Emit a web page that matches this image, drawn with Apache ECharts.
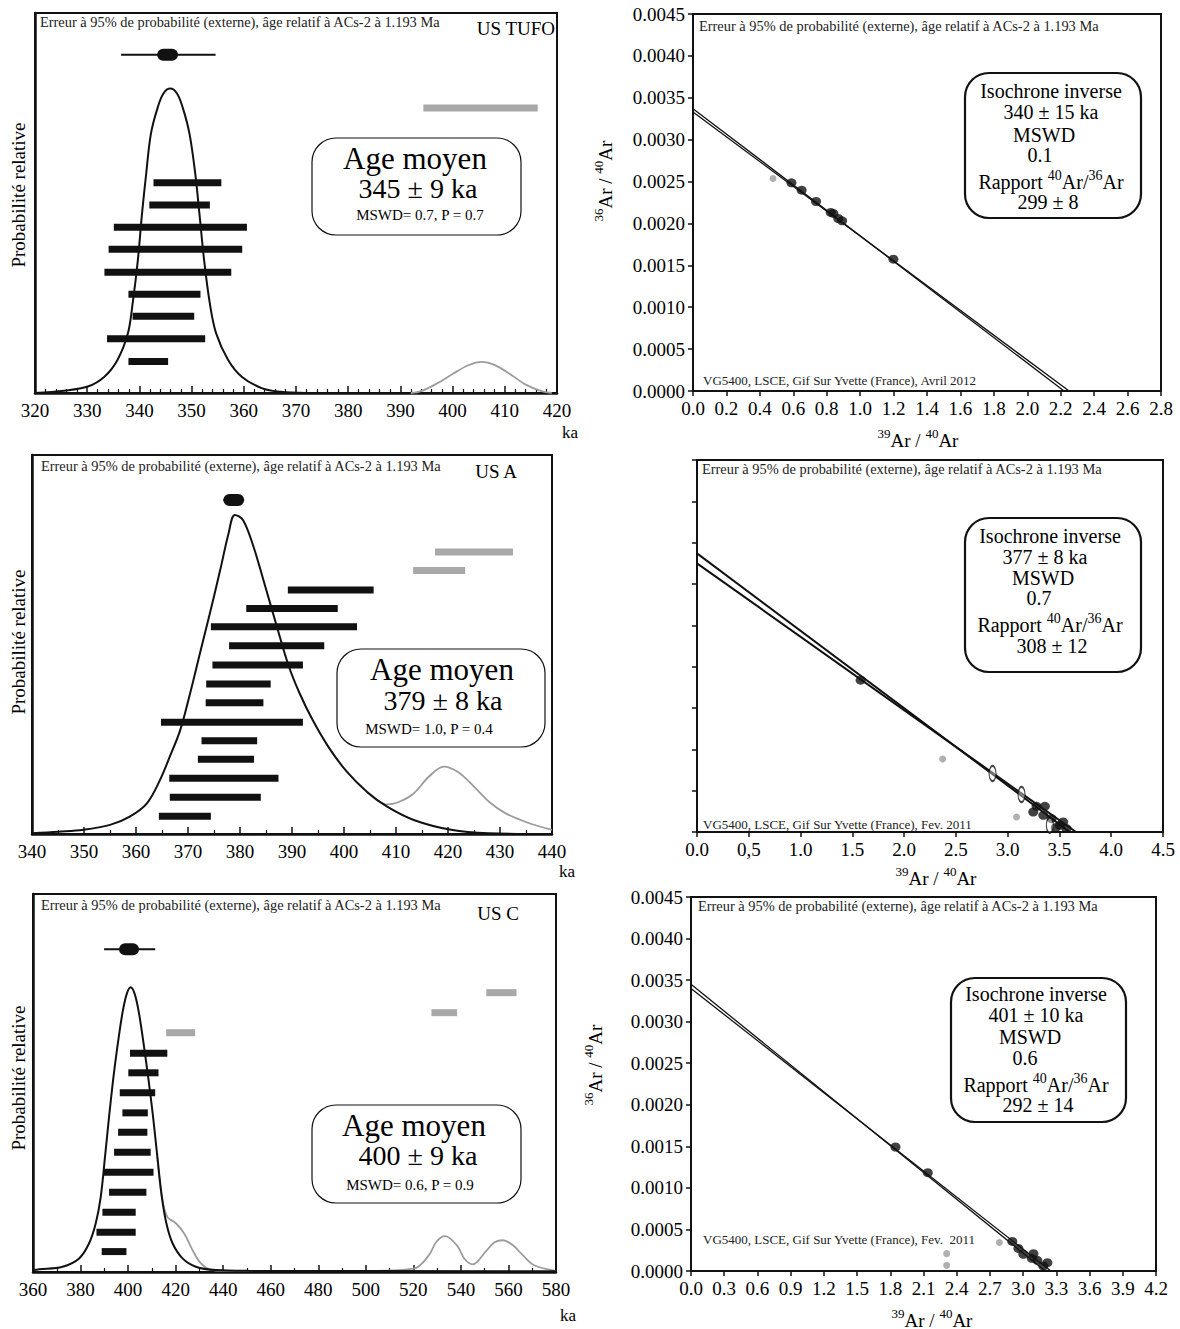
<!DOCTYPE html>
<html><head><meta charset="utf-8">
<script src="https://cdn.jsdelivr.net/npm/echarts@6/dist/echarts.min.js"></script>
<style>html,body{margin:0;padding:0;background:#fff}#c{width:1180px;height:1329px}</style>
</head><body><div id="c"></div>
<script>
// ---------- DATA ----------
// Panel 1 : US TUFO (probability diagram, x in ka, y = relative probability 0..1)
const tufoCurve = [[320,0],[325.6,0.006],[330.1,0.017],[333.3,0.043],[335.8,0.087],[337.8,0.157],[338.7,0.235],[339.7,0.349],[340.5,0.472],[341.3,0.577],[342.2,0.682],[343.5,0.751],[344.6,0.788],[345.9,0.801],[347.2,0.788],[348.3,0.751],[349.6,0.682],[350.7,0.577],[351.5,0.472],[352.4,0.349],[353.5,0.235],[354.7,0.157],[357.0,0.087],[359.6,0.043],[363.4,0.013],[367,0.003],[372,0]];
const tufoGrayCurve = [[392,0],[394,0.005],[397,0.025],[400,0.05],[403,0.073],[405.6,0.082],[408,0.074],[411,0.05],[414,0.022],[417,0.005],[419,0]];
const tufoBars = [[342.7,355.7,0.553],[341.9,353.5,0.495],[335.1,360.6,0.436],[334.1,359.7,0.378],[333.3,357.6,0.318],[337.9,351.7,0.260],[338.7,350.5,0.202],[333.8,352.6,0.143],[337.9,345.5,0.083]];
const tufoGrayBars = [[394.4,416.3,0.750]];
const tufoMean = [[336.5,354.6,343.4,347.4,0.890]];

// Panel 2 : US TUFO inverse isochron
const tufoIsoA = [[0,0.00337],[2.22,0]];
const tufoIsoB = [[0,0.00333],[2.25,0]];
const tufoSteps = [[0.589,0.002485],[0.650,0.002397],[0.736,0.002262],[0.824,0.002131],[0.840,0.00212],[0.869,0.002059],[0.892,0.002031],[1.199,0.001573]];
const tufoGraySteps = [[0.479,0.002537]];

// Panel 3 : US A
const usaCurve = [[340,0.002],[345.1,0.006],[349.9,0.011],[355.0,0.024],[358.8,0.046],[362.1,0.081],[364.6,0.142],[366.5,0.204],[368.5,0.274],[370.4,0.371],[372.3,0.477],[374.2,0.582],[376.2,0.697],[377.8,0.793],[379.0,0.842],[380.6,0.828],[382.6,0.758],[384.5,0.670],[387.1,0.547],[389.3,0.446],[391.5,0.370],[394.0,0.300],[397.0,0.230],[400.5,0.165],[404.5,0.110],[408.3,0.072],[413.4,0.037],[420.6,0.011],[427.8,0.002],[440,0]];
const usaGrayCurve = [[404.5,0.11],[406.5,0.088],[408.3,0.078],[410.3,0.083],[413.4,0.107],[416.3,0.151],[419.2,0.178],[422,0.163],[425,0.125],[427.9,0.085],[431,0.055],[435.1,0.031],[440,0.011]];
const usaBars = [[389.2,405.7,0.644],[381.2,398.8,0.595],[374.4,402.5,0.547],[377.9,396.2,0.497],[374.7,392.1,0.446],[373.5,385.9,0.396],[373.4,384.5,0.346],[364.8,392.1,0.295],[372.6,383.3,0.246],[371.9,382.7,0.197],[366.4,387.4,0.147],[366.5,384.0,0.097],[364.4,374.4,0.047]];
const usaGrayBars = [[417.5,432.5,0.744],[413.3,423.3,0.695]];
const usaMean = [[376.8,380.8,376.8,380.8,0.881]];

// Panel 4 : US A inverse isochron
const usaIsoA = [[0,0.00337],[3.60,0]];
const usaIsoB = [[0,0.00325],[3.66,0]];
const usaSteps = [[1.58,0.001836],[3.279,0.000311],[3.359,0.000311],[3.247,0.000242],[3.344,0.000202],[3.424,0.000162],[3.504,0.000081],[3.536,0.000121],[3.568,0.000041],[3.465,0.000053]];
const usaOpenSteps = [[2.854,0.000707],[3.134,0.000453],[3.407,0.000081]];
const usaGraySteps = [[2.372,0.000884],[3.086,0.000182]];
const usaXLabels = ['0.0','0,5','1.0','1.5','2.0','2.5','3.0','3.5','4.0','4.5'];

// Panel 5 : US C
const uscCurve = [[360,0.005],[362.6,0.007],[372.4,0.014],[379.4,0.036],[383.6,0.076],[386.4,0.129],[388.5,0.199],[390.3,0.305],[392.0,0.411],[393.7,0.508],[395.5,0.596],[397.6,0.684],[399.4,0.735],[401.1,0.753],[402.8,0.735],[404.6,0.684],[406.7,0.596],[408.6,0.508],[410.5,0.411],[412.3,0.305],[414.2,0.199],[416.1,0.129],[418.7,0.076],[422.9,0.036],[428.5,0.014],[436.9,0.005],[450,0.003],[580,0.002]];
const uscGrayCurve = [[412.3,0.305],[414.2,0.199],[416.5,0.146],[420.1,0.129],[423.6,0.102],[427.1,0.058],[430.6,0.023],[434.8,0.006],[440,0.003],[500,0.003],[520.2,0.009],[526.5,0.044],[529.7,0.08],[533.3,0.095],[538.4,0.07],[541.5,0.035],[545,0.02],[550.3,0.053],[554,0.078],[557.7,0.084],[562,0.07],[566.1,0.044],[570.8,0.018],[578.7,0.004],[580,0.003]];
const uscBars = [[400.8,416.5,0.579],[400.1,412.8,0.527],[396.5,411.4,0.474],[397.6,408.3,0.421],[395.8,408.1,0.370],[394.1,409.5,0.317],[389.5,410.7,0.264],[392.0,407.7,0.211],[389.2,403.2,0.158],[386.7,403.2,0.105],[388.9,399.3,0.054]];
const uscGrayBars = [[416.0,428.2,0.633],[527.6,538.4,0.686],[550.7,563.4,0.739]];
const uscMean = [[389.9,411.4,396.2,404.6,0.854]];

// Panel 6 : US C inverse isochron
const uscIsoA = [[0,0.00345],[3.20,0]];
const uscIsoB = [[0,0.00340],[3.25,0]];
const uscSteps = [[1.847,0.001492],[2.139,0.001183],[2.902,0.000356],[2.957,0.000271],[3.002,0.000201],[3.093,0.000209],[3.078,0.000153],[3.128,0.000129],[3.183,0.00006],[3.219,0.0001]];
const uscGraySteps = [[2.785,0.000343],[2.309,0.000209],[2.309,0.000068]];

// ---------- TEXTS ----------
const HEADER = 'Erreur à 95% de probabilité (externe), âge relatif à ACs-2 à 1.193 Ma';
const FONT = '"Liberation Serif", "DejaVu Serif", serif';
const BLACK = '#111';
const GRAY = '#9c9c9c';

// ---------- LAYOUT ----------
const grids = [
  {left:35, top:13, width:522, height:380},
  {left:693, top:14, width:468, height:377},
  {left:32, top:455, width:520, height:379},
  {left:697, top:460, width:466, height:372},
  {left:33, top:894, width:523, height:378},
  {left:691, top:897, width:465, height:374}
].map(g => Object.assign({show:true, borderColor:BLACK, borderWidth:2, backgroundColor:'transparent'}, g));

function probX(gi, min, max, interval, minorSplit){
  return {gridIndex:gi, type:'value', min, max, interval,
    axisLine:{lineStyle:{color:BLACK, width:2.5}},
    axisTick:{inside:true, length:7, lineStyle:{color:BLACK, width:1.5}},
    minorTick:{show:true, splitNumber:minorSplit, length:4, lineStyle:{color:BLACK, width:1.2}},
    splitLine:{show:false}, minorSplitLine:{show:false},
    axisLabel:{color:'#000', fontFamily:FONT, fontSize:19, margin:8}};
}
function probY(gi){
  return {gridIndex:gi, type:'value', min:0, max:1,
    axisLine:{show:true, lineStyle:{color:BLACK, width:2.5}},
    axisTick:{show:false}, axisLabel:{show:false}, splitLine:{show:false}};
}
function isoX(gi, max, interval, fmt){
  return {gridIndex:gi, type:'value', min:0, max, interval,
    axisLine:{lineStyle:{color:BLACK, width:2}},
    axisTick:{inside:false, length:5, lineStyle:{color:BLACK, width:1.5}},
    splitLine:{show:false},
    axisLabel:{color:'#000', fontFamily:FONT, fontSize:19, margin:8, formatter:fmt}};
}
function isoY(gi, showLabels){
  return {gridIndex:gi, type:'value', min:0, max:0.0045, interval:0.0005,
    axisLine:{show:true, lineStyle:{color:BLACK, width:2}},
    axisTick:{show:true, inside:false, length:5, lineStyle:{color:BLACK, width:1.5}},
    splitLine:{show:false},
    axisLabel:{show:showLabels, color:'#000', fontFamily:FONT, fontSize:19, margin:8, formatter:v => v.toFixed(4)}};
}

const xAxes = [
  probX(0,320,420,10,5),
  isoX(1,2.8,0.2,v => v.toFixed(1)),
  probX(2,340,440,10,2),
  isoX(3,4.5,0.5,v => usaXLabels[Math.round(v/0.5)]),
  probX(4,360,580,20,2),
  isoX(5,4.2,0.3,v => v.toFixed(1))
];
const yAxes = [probY(0), isoY(1,true), probY(2), isoY(3,false), probY(4), isoY(5,true)];

// ---------- SERIES ----------
function barRender(h, color){
  return function(params, api){
    const y = api.value(2);
    const a = api.coord([api.value(0), y]);
    const b = api.coord([api.value(1), y]);
    return {type:'rect', shape:{x:a[0], y:a[1]-h/2, width:b[0]-a[0], height:h}, style:{fill:color}};
  };
}
function meanRender(params, api){
  const y = api.value(4);
  const a = api.coord([api.value(0), y]), b = api.coord([api.value(1), y]);
  const c = api.coord([api.value(2), y]), d = api.coord([api.value(3), y]);
  return {type:'group', children:[
    {type:'line', shape:{x1:a[0], y1:a[1], x2:b[0], y2:b[1]}, style:{stroke:BLACK, lineWidth:2}},
    {type:'rect', shape:{x:c[0], y:c[1]-6, width:d[0]-c[0], height:12, r:6}, style:{fill:BLACK}}
  ]};
}
const series = [];
function probPanel(gi, curve, grayCurve, bars, grayBars, mean){
  series.push({type:'line', xAxisIndex:gi, yAxisIndex:gi, data:grayCurve, smooth:0.35, showSymbol:false, silent:true, lineStyle:{color:GRAY, width:1.8}, z:2});
  series.push({type:'line', xAxisIndex:gi, yAxisIndex:gi, data:curve, smooth:0.35, showSymbol:false, silent:true, lineStyle:{color:BLACK, width:2}, z:3});
  series.push({type:'custom', xAxisIndex:gi, yAxisIndex:gi, data:grayBars, renderItem:barRender(7,'#a8a8a8'), encode:{x:[0,1], y:2}, silent:true, z:4});
  series.push({type:'custom', xAxisIndex:gi, yAxisIndex:gi, data:bars, renderItem:barRender(7,BLACK), encode:{x:[0,1], y:2}, silent:true, z:5});
  series.push({type:'custom', xAxisIndex:gi, yAxisIndex:gi, data:mean, renderItem:meanRender, encode:{x:[0,1], y:4}, silent:true, z:5});
}
function isoPanel(gi, lineA, lineB, lw, black, gray, open){
  [lineA, lineB].forEach(l => series.push({type:'line', xAxisIndex:gi, yAxisIndex:gi, data:l, showSymbol:false, silent:true, lineStyle:{color:BLACK, width:lw}, z:3}));
  series.push({type:'scatter', xAxisIndex:gi, yAxisIndex:gi, data:gray, symbol:'circle', symbolSize:7, itemStyle:{color:GRAY}, silent:true, z:4});
  series.push({type:'scatter', xAxisIndex:gi, yAxisIndex:gi, data:black, symbol:'circle', symbolSize:[10,9], itemStyle:{color:BLACK}, silent:true, z:5});
  if (open) series.push({type:'scatter', xAxisIndex:gi, yAxisIndex:gi, data:open, symbol:'circle', symbolSize:[7,15], itemStyle:{color:'rgba(255,255,255,0.5)', borderColor:BLACK, borderWidth:1.5}, silent:true, z:6});
}
probPanel(0, tufoCurve, tufoGrayCurve, tufoBars, tufoGrayBars, tufoMean);
isoPanel(1, tufoIsoA, tufoIsoB, 1.3, tufoSteps, tufoGraySteps, null);
probPanel(2, usaCurve, usaGrayCurve, usaBars, usaGrayBars, usaMean);
isoPanel(3, usaIsoA, usaIsoB, 2, usaSteps, usaGraySteps, usaOpenSteps);
probPanel(4, uscCurve, uscGrayCurve, uscBars, uscGrayBars, uscMean);
isoPanel(5, uscIsoA, uscIsoB, 1.3, uscSteps, uscGraySteps, null);

// ---------- ANNOTATIONS ----------
const G = [];
function txt(x, y, text, size, align, opts, fill){
  G.push(Object.assign({type:'text', x, y, silent:true,
    style:{text, fontFamily:FONT, fontSize:size, fill:fill||'#000', align:align||'center', verticalAlign:'middle'}}, opts||{}));
}
function small(x, y, text, size){ txt(x, y, text, size||14.4, 'left', null, '#222'); }
function rich(x, y, text, size, supSize, opts){
  G.push(Object.assign({type:'text', x, y, silent:true,
    style:{text, fontFamily:FONT, fill:'#000', align:'center', verticalAlign:'middle',
      rich:{a:{fontFamily:FONT, fontSize:size, lineHeight:size+4, verticalAlign:'bottom', fill:'#000'},
            s:{fontFamily:FONT, fontSize:supSize, lineHeight:supSize+1, verticalAlign:'top', fill:'#000'}}}}, opts||{}));
}
function box(x, y, w, h, lw){
  G.push({type:'rect', silent:true, shape:{x, y, width:w, height:h, r:24}, style:{fill:'rgba(255,255,255,0)', stroke:BLACK, lineWidth:lw}});
}
const AR_X = '{s|39}{a|Ar / }{s|40}{a|Ar}';
const AR_Y = '{s|36}{a|Ar / }{s|40}{a|Ar}';
const RAPPORT = '{a|Rapport }{s|40}{a|Ar/}{s|36}{a|Ar}';

// Panel 1
small(40, 22, HEADER);
txt(555, 28, 'US TUFO', 19, 'right');
txt(18, 195, 'Probabilité relative', 19, 'center', {rotation:Math.PI/2});
txt(570, 432, 'ka', 17);
box(312, 138, 209, 97, 1.2);
txt(415, 158, 'Age moyen', 31);
txt(418, 188, '345 ± 9 ka', 28);
txt(420, 215, 'MSWD= 0.7, P = 0.7', 15);

// Panel 2
small(699, 26, HEADER);
small(703, 380, 'VG5400, LSCE, Gif Sur Yvette (France), Avril 2012', 13);
rich(918, 438, AR_X, 19, 13);
rich(603, 181, AR_Y, 19, 13, {rotation:Math.PI/2});
box(965, 73, 176, 145, 2.2);
txt(1051, 91, 'Isochrone inverse', 20);
txt(1051, 112, '340 ± 15 ka', 20);
txt(1044, 135, 'MSWD', 20);
txt(1040, 155, '0.1', 20);
rich(1051, 180, RAPPORT, 20, 14);
txt(1048, 202, '299 ± 8', 20);

// Panel 3
small(41, 466, HEADER);
txt(517, 471, 'US A', 19, 'right');
txt(18, 642, 'Probabilité relative', 19, 'center', {rotation:Math.PI/2});
txt(567, 871, 'ka', 17);
box(337, 649, 208, 98, 1.2);
txt(442, 669, 'Age moyen', 31);
txt(443, 700, '379 ± 8 ka', 28);
txt(429, 729, 'MSWD= 1.0, P = 0.4', 15);

// Panel 4
small(702, 469, HEADER);
small(703, 824, 'VG5400, LSCE, Gif Sur Yvette (France), Fev. 2011', 13);
rich(936, 876, AR_X, 19, 13);
box(965, 518, 176, 154, 2.2);
txt(1050, 536, 'Isochrone inverse', 20);
txt(1045, 557, '377 ± 8 ka', 20);
txt(1043, 578, 'MSWD', 20);
txt(1039, 598, '0.7', 20);
rich(1050, 623, RAPPORT, 20, 14);
txt(1052, 646, '308 ± 12', 20);

// Panel 5
small(41, 905, HEADER);
txt(519, 913, 'US C', 19, 'right');
txt(18, 1078, 'Probabilité relative', 19, 'center', {rotation:Math.PI/2});
txt(568, 1315, 'ka', 17);
box(312, 1105, 209, 98, 1.2);
txt(414, 1125, 'Age moyen', 31);
txt(418, 1155, '400 ± 9 ka', 28);
txt(410, 1185, 'MSWD= 0.6, P = 0.9', 15);

// Panel 6
small(698, 906, HEADER);
small(703, 1239, 'VG5400, LSCE, Gif Sur Yvette (France), Fev.  2011', 13);
rich(932, 1318, AR_X, 19, 13);
rich(593, 1065, AR_Y, 19, 13, {rotation:Math.PI/2});
box(951, 978, 175, 144, 2.2);
txt(1036, 994, 'Isochrone inverse', 20);
txt(1036, 1015, '401 ± 10 ka', 20);
txt(1030, 1037, 'MSWD', 20);
txt(1025, 1058, '0.6', 20);
rich(1036, 1083, RAPPORT, 20, 14);
txt(1038, 1105, '292 ± 14', 20);

const chart = echarts.init(document.getElementById('c'), null, {renderer:'svg', width:1180, height:1329});
chart.setOption({
  animation:false,
  backgroundColor:'#fff',
  textStyle:{fontFamily:FONT},
  grid:grids, xAxis:xAxes, yAxis:yAxes, series, graphic:{elements:G}
});
</script>
</body></html>
